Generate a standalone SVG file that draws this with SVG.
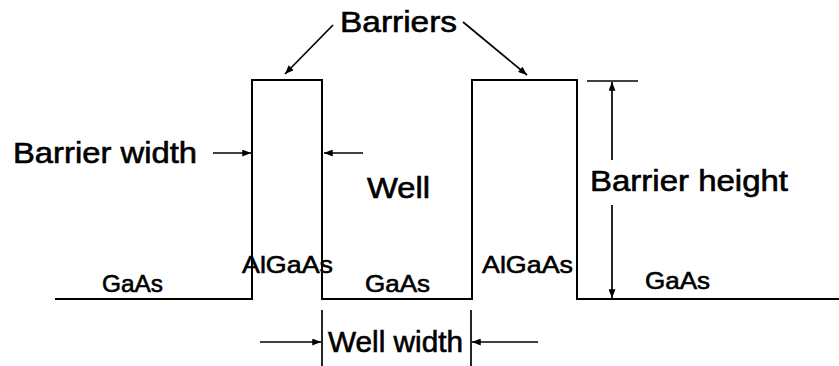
<svg xmlns="http://www.w3.org/2000/svg" width="839" height="366" viewBox="0 0 839 366">
  <style>
    .line { fill: none; stroke: #000; stroke-width: 2; }
    .dim { fill: none; stroke: #000; stroke-width: 1.7; }
    .lbl { font-family: "Liberation Sans", Arial, Helvetica, sans-serif; fill: #000; stroke: #000; stroke-width: 0.6; }
    .big { font-size: 29px; }
    .mat { font-size: 24px; }
  </style>
  <defs>
    <marker id="head" viewBox="0 0 10 8" refX="10" refY="4" markerWidth="10" markerHeight="7" markerUnits="userSpaceOnUse" orient="auto">
      <path d="M0,0 L10,4 L0,8 Z" fill="#000"/>
    </marker>
  </defs>
  <rect width="839" height="366" fill="#fff"/>

  <!-- conduction band profile: GaAs / AlGaAs / GaAs / AlGaAs / GaAs -->
  <g id="profile">
    <path class="line" d="M55,299 H252 V80 H322 V299 H472 V80 H577 V299 H839"/>
  </g>

  <!-- material labels -->
  <g id="gaas-left"><text class="lbl mat" x="102" y="292" textLength="61" lengthAdjust="spacingAndGlyphs">GaAs</text></g>
  <g id="algaas-left"><text class="lbl mat" x="242" y="273" font-size="26" textLength="91" lengthAdjust="spacingAndGlyphs">AlGaAs</text></g>
  <g id="gaas-well"><text class="lbl mat" x="365" y="292" textLength="65" lengthAdjust="spacingAndGlyphs">GaAs</text></g>
  <g id="algaas-right"><text class="lbl mat" x="482" y="273" font-size="26" textLength="91" lengthAdjust="spacingAndGlyphs">AlGaAs</text></g>
  <g id="gaas-right"><text class="lbl mat" x="645" y="289" textLength="65" lengthAdjust="spacingAndGlyphs">GaAs</text></g>

  <!-- annotation labels -->
  <g id="barriers"><text class="lbl big" x="340" y="32" textLength="117" lengthAdjust="spacingAndGlyphs">Barriers</text></g>
  <g id="barrier-width"><text class="lbl big" x="13" y="163" textLength="184" lengthAdjust="spacingAndGlyphs">Barrier width</text></g>
  <g id="well"><text class="lbl big" x="367" y="198" font-size="31" textLength="63" lengthAdjust="spacingAndGlyphs">Well</text></g>
  <g id="barrier-height"><text class="lbl big" x="590" y="191" textLength="198" lengthAdjust="spacingAndGlyphs">Barrier height</text></g>
  <g id="well-width"><text class="lbl big" x="328" y="352" font-size="28" textLength="135" lengthAdjust="spacingAndGlyphs">Well width</text></g>

  <!-- connectors and dimension lines -->
  <g id="connectors">
    <line class="dim" x1="333" y1="25" x2="285" y2="74" marker-end="url(#head)"/>
    <line class="dim" x1="463" y1="22" x2="527" y2="75" marker-end="url(#head)"/>

    <line class="dim" x1="213" y1="153" x2="251" y2="153" marker-end="url(#head)"/>
    <line class="dim" x1="363" y1="153" x2="324" y2="153" marker-end="url(#head)"/>

    <line class="dim" x1="587" y1="81" x2="638" y2="81"/>
    <line class="dim" x1="612" y1="160" x2="612" y2="82" marker-end="url(#head)"/>
    <line class="dim" x1="612" y1="205" x2="612" y2="298" marker-end="url(#head)"/>

    <line class="dim" x1="322" y1="310" x2="322" y2="366"/>
    <line class="dim" x1="471" y1="310" x2="471" y2="366"/>
    <line class="dim" x1="260" y1="342" x2="321" y2="342" marker-end="url(#head)"/>
    <line class="dim" x1="538" y1="342" x2="472" y2="342" marker-end="url(#head)"/>
  </g>
</svg>
